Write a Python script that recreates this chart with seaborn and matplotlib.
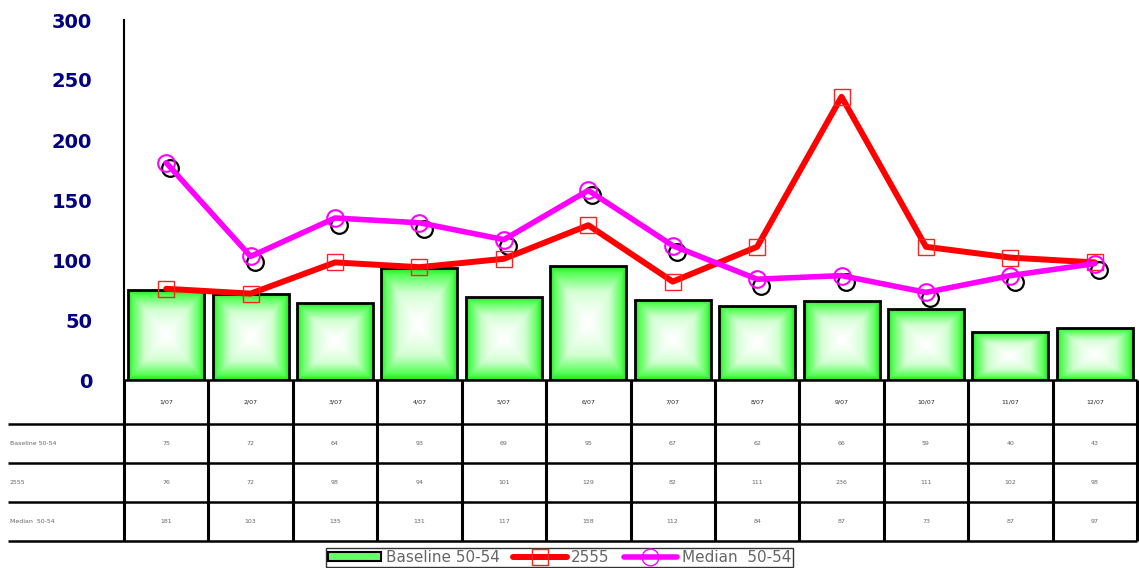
import numpy as np
import seaborn as sns
import matplotlib.pyplot as plt
from matplotlib import transforms
from matplotlib.patches import Patch
from matplotlib.lines import Line2D
from matplotlib.colors import LinearSegmentedColormap

# ---------------------------------------------------------
# data
# ---------------------------------------------------------
weeks = ["1/07", "2/07", "3/07", "4/07", "5/07", "6/07",
         "7/07", "8/07", "9/07", "10/07", "11/07", "12/07"]
baseline = [75, 72, 64, 93, 69, 95, 67, 62, 66, 59, 40, 43]
series_2555 = [76, 72, 98, 94, 101, 129, 82, 111, 236, 111, 102, 98]
median = [181, 103, 135, 131, 117, 158, 112, 84, 87, 73, 87, 97]
median_prev = [177, 98, 129, 126, 112, 154, 107, 78, 82, 68, 82, 92]

row_labels = ["Baseline 50-54", "2555", "Median  50-54"]

sns.set_style("white")
plt.rcParams["font.family"] = ["DejaVu Sans"]

W, H = 1139, 568
fig = plt.figure(figsize=(W / 100, H / 100), dpi=100)
left, right, top, bottom = 124 / W, 1137 / W, 20 / H, 380 / H
ax = fig.add_axes([left, 1 - bottom, right - left, bottom - top])

x = np.arange(len(weeks))

# ---------------------------------------------------------
# bars with a pyramid gradient fill
# ---------------------------------------------------------
sns.barplot(x=x, y=baseline, ax=ax, width=0.9, facecolor="none",
            edgecolor="black", linewidth=2.0, zorder=3)

green = LinearSegmentedColormap.from_list(
    "g", [(0, "#ffffff"), (0.45, "#d0ffd0"), (0.85, "#55ff55"), (1, "#22e622")])
u = np.linspace(-1, 1, 80)
uu, vv = np.meshgrid(u, u)
grad = np.maximum(np.abs(uu), np.abs(vv)) ** 1.4
for p in ax.patches:
    x0, y0 = p.get_x(), p.get_y()
    w, h = p.get_width(), p.get_height()
    im = ax.imshow(grad, cmap=green, extent=(x0, x0 + w, y0, y0 + h),
                   aspect="auto", zorder=2, interpolation="bilinear")
    im.set_clip_path(p)

# ---------------------------------------------------------
# lines
# ---------------------------------------------------------
shift = transforms.ScaledTranslation(3 / 72, 0, fig.dpi_scale_trans)
ax.plot(x, median_prev, linestyle="none", marker="o", markersize=12,
        markerfacecolor="none", markeredgecolor="black", markeredgewidth=1.6,
        transform=ax.transData + shift, zorder=4)
sns.lineplot(x=x, y=series_2555, ax=ax, color="#ff0000", linewidth=4.3,
             marker="s", markersize=11, markerfacecolor="none",
             markeredgecolor="#ff2020", markeredgewidth=1.0, zorder=5)
sns.lineplot(x=x, y=median, ax=ax, color="#ff00ff", linewidth=4.0,
             marker="o", markersize=12, markerfacecolor="none",
             markeredgecolor="#ff00ff", markeredgewidth=1.5, zorder=6)

ax.set_xlim(-0.5, len(weeks) - 0.5)
ax.set_ylim(0, 300)
ax.set_yticks([0, 50, 100, 150, 200, 250, 300])
ax.set_xticks([])
ax.tick_params(axis="y", length=8, width=1.5, pad=15, colors="black",
               labelsize=14, labelcolor="#000080")
for lab in ax.get_yticklabels():
    lab.set_fontweight("bold")
for s in ["top", "right", "bottom"]:
    ax.spines[s].set_visible(False)
ax.spines["left"].set_linewidth(1.5)
ax.spines["left"].set_color("black")
ax.set_xlabel("")
ax.set_ylabel("")

# ---------------------------------------------------------
# data table under the chart
# ---------------------------------------------------------
tab_top, tab_bot = 380 / H, 541 / H
tab = fig.add_axes([left, 1 - tab_bot, right - left, tab_bot - tab_top])
tab.set_xlim(-0.5, len(weeks) - 0.5)
tab.set_ylim(161, 0)
tab.axis("off")
rows = [0, 44, 83, 122, 161]
tab.vlines(np.arange(len(weeks) + 1) - 0.5, 0, 161, color="black", linewidth=2.2,
           clip_on=False)
tab.hlines(0, -0.5, len(weeks) - 0.5, color="black", linewidth=1.8, clip_on=False)
ytr = tab.get_yaxis_transform()
tab.hlines(rows[1:], -0.115, 1.0, color="black", linewidth=1.8, clip_on=False,
           transform=ytr)

for i, wk in enumerate(weeks):
    tab.text(i, (rows[0] + rows[1]) / 2, wk, ha="center", va="center",
             fontsize=4.5, color="#222222")
for r, vals in enumerate([baseline, series_2555, median]):
    yc = (rows[r + 1] + rows[r + 2]) / 2
    tab.text(-0.113, yc, row_labels[r], ha="left", va="center", fontsize=4.5,
             color="#666666", transform=ytr)
    for i, v in enumerate(vals):
        tab.text(i, yc, str(v), ha="center", va="center", fontsize=4.5,
                 color="#666666")

# ---------------------------------------------------------
# legend at the bottom edge
# ---------------------------------------------------------
handles = [
    Patch(facecolor="#66ff66", edgecolor="black", linewidth=1.5),
    Line2D([], [], color="#ff0000", linewidth=4.3, marker="s", markersize=11,
           markerfacecolor="none", markeredgecolor="#ff2020"),
    Line2D([], [], color="#ff00ff", linewidth=4.0, marker="o", markersize=12,
           markerfacecolor="none", markeredgecolor="#ff00ff"),
]
leg = fig.legend(handles, ["Baseline 50-54", "2555", "Median  50-54"],
                 loc="upper center", bbox_to_anchor=(0.491, 1 - 548 / H),
                 ncol=3, frameon=True, fancybox=False, fontsize=11,
                 handlelength=3.5, handleheight=0.55, columnspacing=0.9,
                 handletextpad=0.3, borderpad=0.12, borderaxespad=0,
                 labelcolor="#666666")
leg.get_frame().set_edgecolor("black")
leg.get_frame().set_linewidth(1.0)

fig.savefig("out.png", dpi=100)
